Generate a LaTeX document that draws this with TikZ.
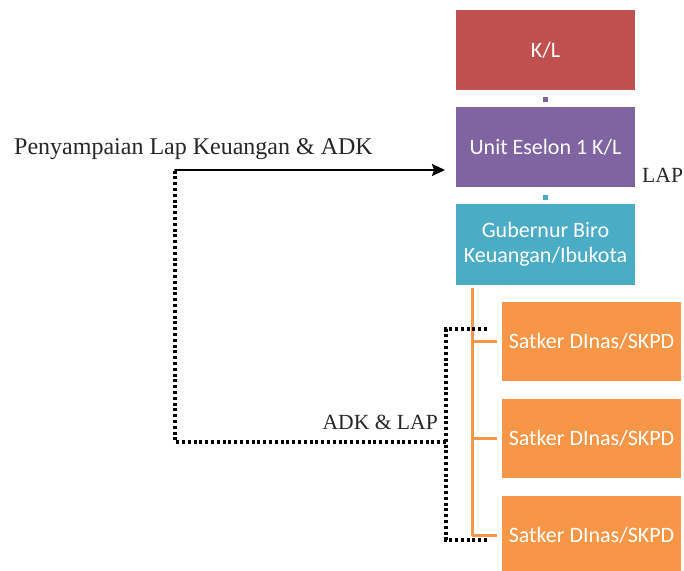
\documentclass[tikz,border=0pt]{standalone}
\usepackage{fontspec}
\setmainfont{Liberation Serif}
\newfontfamily\boxfont{Carlito}
\usetikzlibrary{arrows.meta}
\definecolor{klred}{HTML}{C0504D}
\definecolor{unitpurple}{HTML}{8064A2}
\definecolor{gubteal}{HTML}{4BACC6}
\definecolor{satorange}{HTML}{F79646}
\definecolor{lbltext}{HTML}{262626}

\begin{document}
\begin{tikzpicture}[x=1bp,y=-1bp,
  orgbox/.style={rectangle, minimum width=179bp, minimum height=80bp,
    inner sep=0pt, text=white, align=center,
    font=\boxfont\fontsize{22bp}{25bp}\selectfont},
  satbox/.style={orgbox, fill=satorange, minimum height=79bp},
  lbl/.style={inner sep=0pt, text=lbltext},
  dots/.style={line width=3.2bp, dash pattern=on 3bp off 2.8bp, black},
  branch/.style={satorange, line width=3bp},
  tick/.style={line width=5bp},
]
\useasboundingbox (0,0) rectangle (684,571);

% hierarchy boxes
\node[orgbox, fill=klred]      (kl)   at (545.5,50)    {K/L};
\node[orgbox, fill=unitpurple] (unit) at (545.5,147)   {Unit Eselon 1 K/L};
\node[orgbox, fill=gubteal, minimum height=81bp] (gub) at (545.5,244.5)
  {Gubernur Biro\\Keuangan/Ibukota};
\node[satbox] (s1) at (591.5,341.5) {Satker DInas/SKPD};
\node[satbox] (s2) at (591.5,438.5) {Satker DInas/SKPD};
\node[satbox] (s3) at (591.5,535.5) {Satker DInas/SKPD};

% short links between the stacked boxes
\draw[tick, unitpurple] ([yshift=-7bp]kl.south) -- ([yshift=-12bp]kl.south);
\draw[tick, gubteal] ([yshift=-8bp]unit.south) -- ([yshift=-13bp]unit.south);

% orange trunk and branches to the Satker boxes
\coordinate (trunktop) at (472,288);
\draw[branch] (trunktop) -- (trunktop |- s3.west);
\draw[branch] (trunktop |- s1.west) -- ([xshift=-5bp]s1.west);
\draw[branch] (trunktop |- s2.west) -- ([xshift=-5bp]s2.west);
\draw[branch] (trunktop |- s3.west) -- ([xshift=-5bp]s3.west);

% dotted bracket collecting the Satker reports
\coordinate (bte) at (487,329);
\coordinate (bt)  at (446,329);
\coordinate (bb)  at (446,540);
\coordinate (bbe) at (487,540);
\coordinate (join) at (446,442);
\coordinate (mid)  at (175,442);
\coordinate (start) at (175,170);
\coordinate (tip)   at (445,170);
\draw[dots] (bte) -- (bt) -- (bb) -- (bbe);
\draw[dots] (join) -- (mid) -- (start);

% submission arrow
\draw[line width=2bp, line cap=round, black,
  -{Stealth[length=13bp,width=12bp,inset=2bp]}] (start) -- (tip);

% labels
\node[lbl, anchor=base west, font=\fontsize{24bp}{28bp}\selectfont] (t1) at (14,155)
  {Penyampaian Lap Keuangan \& ADK};
\node[lbl, anchor=base east, font=\fontsize{21.6bp}{26bp}\selectfont] (t2) at (438,429)
  {ADK \& LAP};
\node[lbl, anchor=base west, font=\fontsize{21.6bp}{26bp}\selectfont] (t3) at (642,183)
  {LAP};
\end{tikzpicture}
\end{document}
